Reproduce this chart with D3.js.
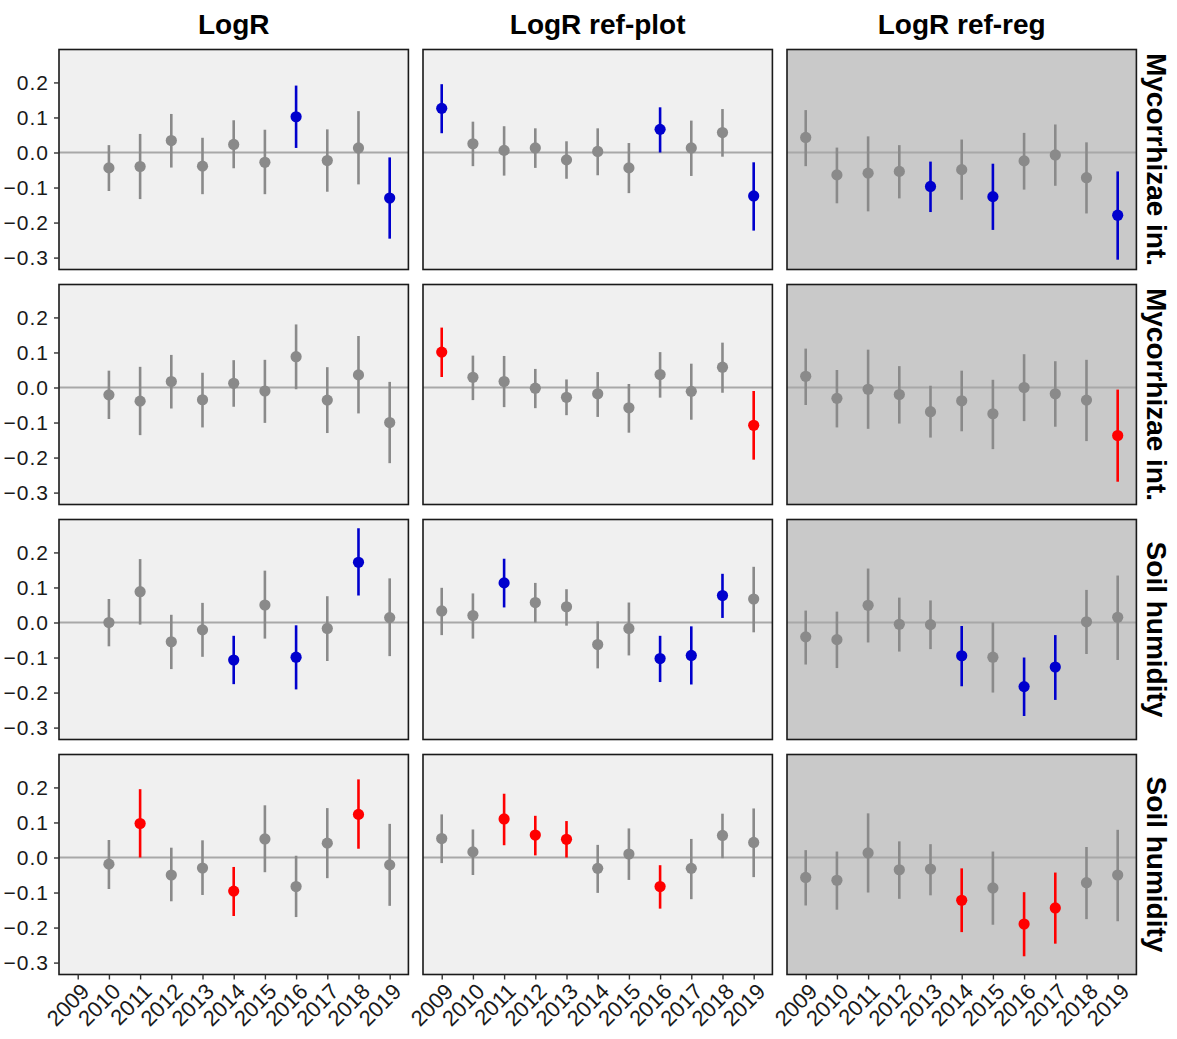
<!DOCTYPE html>
<html lang="en">
<head>
<meta charset="UTF-8">
<title>LogR by year</title>
<script src="https://cdn.jsdelivr.net/npm/d3@7"></script>
<style>
  body { margin: 0; background: #fff; }
  text { font-family: "Liberation Sans", Arial, Helvetica, sans-serif; }
</style>
</head>
<body>
<div id="chart"></div>
<script>
// years on the x axis
var years = [2009, 2010, 2011, 2012, 2013, 2014, 2015, 2016, 2017, 2018, 2019];
var colTitles = ["LogR", "LogR ref-plot", "LogR ref-reg"];
var rowTitles = ["Mycorrhizae int.", "Mycorrhizae int.", "Soil humidity", "Soil humidity"];
var yTicks = [0.2, 0.1, 0.0, -0.1, -0.2, -0.3];

// row 1 - Mycorrhizae int. (blue = significant)
var myc1LogR_est = [null, -0.044, -0.040, 0.034, -0.039, 0.023, -0.028, 0.102, -0.023, 0.013, -0.130];
var myc1LogR_lo  = [null, -0.110, -0.133, -0.043, -0.119, -0.045, -0.119, 0.013, -0.112, -0.091, -0.246];
var myc1LogR_hi  = [null, 0.021, 0.053, 0.110, 0.042, 0.092, 0.065, 0.191, 0.066, 0.118, -0.014];
var myc1LogR_sig = [0, 0, 0, 0, 0, 0, 0, 1, 0, 0, 1];

var myc1Plot_est = [0.126, 0.025, 0.006, 0.013, -0.021, 0.003, -0.044, 0.066, 0.013, 0.057, -0.124];
var myc1Plot_lo  = [0.055, -0.039, -0.066, -0.044, -0.075, -0.065, -0.116, 0.000, -0.067, -0.012, -0.223];
var myc1Plot_hi  = [0.195, 0.088, 0.075, 0.069, 0.032, 0.069, 0.027, 0.129, 0.091, 0.124, -0.028];
var myc1Plot_sig = [1, 0, 0, 0, 0, 0, 0, 1, 0, 0, 1];

var myc1Reg_est = [0.043, -0.064, -0.059, -0.054, -0.097, -0.049, -0.126, -0.024, -0.007, -0.072, -0.179];
var myc1Reg_lo  = [-0.039, -0.145, -0.168, -0.131, -0.170, -0.135, -0.221, -0.106, -0.095, -0.174, -0.306];
var myc1Reg_hi  = [0.121, 0.014, 0.046, 0.021, -0.026, 0.037, -0.032, 0.056, 0.080, 0.029, -0.054];
var myc1Reg_sig = [0, 0, 0, 0, 1, 0, 1, 0, 0, 0, 1];

// row 2 - Mycorrhizae int. (red = significant)
var myc2LogR_est = [null, -0.021, -0.039, 0.017, -0.035, 0.012, -0.010, 0.088, -0.036, 0.036, -0.100];
var myc2LogR_lo  = [null, -0.090, -0.136, -0.060, -0.114, -0.055, -0.101, -0.005, -0.130, -0.074, -0.216];
var myc2LogR_hi  = [null, 0.048, 0.059, 0.093, 0.042, 0.078, 0.079, 0.180, 0.058, 0.147, 0.016];
var myc2LogR_sig = [0, 0, 0, 0, 0, 0, 0, 0, 0, 0, 0];

var myc2Plot_est = [0.101, 0.029, 0.017, -0.002, -0.028, -0.018, -0.058, 0.037, -0.011, 0.058, -0.108];
var myc2Plot_lo  = [0.030, -0.036, -0.056, -0.059, -0.079, -0.084, -0.129, -0.029, -0.092, -0.015, -0.206];
var myc2Plot_hi  = [0.171, 0.091, 0.090, 0.053, 0.023, 0.044, 0.010, 0.101, 0.068, 0.128, -0.010];
var myc2Plot_sig = [1, 0, 0, 0, 0, 0, 0, 0, 0, 0, 1];

var myc2Reg_est = [0.032, -0.031, -0.005, -0.020, -0.069, -0.038, -0.075, 0.000, -0.018, -0.036, -0.137];
var myc2Reg_lo  = [-0.050, -0.114, -0.118, -0.103, -0.143, -0.125, -0.176, -0.096, -0.112, -0.153, -0.269];
var myc2Reg_hi  = [0.111, 0.050, 0.108, 0.061, 0.005, 0.048, 0.022, 0.095, 0.075, 0.079, -0.006];
var myc2Reg_sig = [0, 0, 0, 0, 0, 0, 0, 0, 0, 0, 1];

// row 3 - Soil humidity (blue)
var soil1LogR_est = [null, 0.000, 0.088, -0.055, -0.021, -0.107, 0.050, -0.099, -0.017, 0.172, 0.014];
var soil1LogR_lo  = [null, -0.068, -0.006, -0.133, -0.098, -0.176, -0.046, -0.191, -0.110, 0.077, -0.096];
var soil1LogR_hi  = [null, 0.067, 0.181, 0.022, 0.056, -0.038, 0.148, -0.008, 0.075, 0.269, 0.126];
var soil1LogR_sig = [0, 0, 0, 0, 0, 1, 0, 1, 0, 1, 0];

var soil1Plot_est = [0.033, 0.020, 0.113, 0.057, 0.045, -0.063, -0.017, -0.103, -0.094, 0.077, 0.067];
var soil1Plot_lo  = [-0.036, -0.046, 0.043, 0.000, -0.009, -0.131, -0.094, -0.170, -0.177, 0.013, -0.028];
var soil1Plot_hi  = [0.099, 0.083, 0.182, 0.113, 0.095, 0.003, 0.057, -0.038, -0.011, 0.139, 0.159];
var soil1Plot_sig = [0, 0, 1, 0, 0, 0, 0, 1, 1, 1, 0];

var soil1Reg_est = [-0.041, -0.049, 0.049, -0.005, -0.006, -0.095, -0.099, -0.183, -0.127, 0.002, 0.015];
var soil1Reg_lo  = [-0.120, -0.130, -0.057, -0.083, -0.076, -0.182, -0.200, -0.267, -0.221, -0.090, -0.107];
var soil1Reg_hi  = [0.034, 0.031, 0.154, 0.071, 0.063, -0.010, 0.000, -0.100, -0.036, 0.093, 0.134];
var soil1Reg_sig = [0, 0, 0, 0, 0, 1, 0, 1, 1, 0, 0];

// row 4 - Soil humidity (red)
var soil2LogR_est = [null, -0.019, 0.097, -0.050, -0.030, -0.096, 0.053, -0.083, 0.041, 0.123, -0.021];
var soil2LogR_lo  = [null, -0.090, 0.000, -0.125, -0.107, -0.167, -0.042, -0.170, -0.059, 0.025, -0.138];
var soil2LogR_hi  = [null, 0.050, 0.195, 0.028, 0.049, -0.027, 0.149, 0.005, 0.141, 0.223, 0.096];
var soil2LogR_sig = [0, 0, 1, 0, 0, 1, 0, 0, 0, 1, 0];

var soil2Plot_est = [0.054, 0.016, 0.110, 0.064, 0.052, -0.031, 0.010, -0.083, -0.031, 0.063, 0.043];
var soil2Plot_lo  = [-0.016, -0.050, 0.035, 0.006, 0.000, -0.101, -0.064, -0.146, -0.119, -0.002, -0.056];
var soil2Plot_hi  = [0.123, 0.080, 0.182, 0.119, 0.104, 0.036, 0.083, -0.022, 0.053, 0.125, 0.140];
var soil2Plot_sig = [0, 0, 1, 1, 1, 0, 0, 1, 0, 0, 0];

var soil2Reg_est = [-0.057, -0.065, 0.013, -0.035, -0.033, -0.122, -0.087, -0.190, -0.144, -0.072, -0.050];
var soil2Reg_lo  = [-0.137, -0.149, -0.100, -0.118, -0.108, -0.213, -0.192, -0.282, -0.246, -0.176, -0.182];
var soil2Reg_hi  = [0.021, 0.017, 0.126, 0.046, 0.038, -0.031, 0.017, -0.099, -0.043, 0.030, 0.079];
var soil2Reg_sig = [0, 0, 0, 0, 0, 1, 0, 1, 1, 0, 0];

// panels[row][col] = [est, lo, hi, sig]
var panels = [
    [[myc1LogR_est, myc1LogR_lo, myc1LogR_hi, myc1LogR_sig],
     [myc1Plot_est, myc1Plot_lo, myc1Plot_hi, myc1Plot_sig],
     [myc1Reg_est, myc1Reg_lo, myc1Reg_hi, myc1Reg_sig]],
    [[myc2LogR_est, myc2LogR_lo, myc2LogR_hi, myc2LogR_sig],
     [myc2Plot_est, myc2Plot_lo, myc2Plot_hi, myc2Plot_sig],
     [myc2Reg_est, myc2Reg_lo, myc2Reg_hi, myc2Reg_sig]],
    [[soil1LogR_est, soil1LogR_lo, soil1LogR_hi, soil1LogR_sig],
     [soil1Plot_est, soil1Plot_lo, soil1Plot_hi, soil1Plot_sig],
     [soil1Reg_est, soil1Reg_lo, soil1Reg_hi, soil1Reg_sig]],
    [[soil2LogR_est, soil2LogR_lo, soil2LogR_hi, soil2LogR_sig],
     [soil2Plot_est, soil2Plot_lo, soil2Plot_hi, soil2Plot_sig],
     [soil2Reg_est, soil2Reg_lo, soil2Reg_hi, soil2Reg_sig]]
];

var sigColor = ["#0000cd", "#ff0000", "#0000cd", "#ff0000"];  // per row
var panelFill = ["#f0f0f0", "#f0f0f0", "#c9c9c9"];
var grey = "#8a8a8a";

var W = 1177, H = 1039;
var left = 59, top0 = 49.5, pw = 349.4, ph = 220, gapX = 14.6, gapY = 15;

var svg = d3.select('#chart')
        .append('svg')
        .attr('width', W)
        .attr('height', H);

var x = d3.scalePoint().domain(years).range([0, pw]).padding(0.6);
var y = d3.scaleLinear().domain([-0.334, 0.294]).range([ph, 0]);

// column titles
svg.selectAll('text.coltitle')
        .data(colTitles)
        .enter()
        .append('text')
        .attr('class', 'coltitle')
        .attr('x', function(d, i){ return left + i * (pw + gapX) + pw / 2; })
        .attr('y', 34)
        .attr('text-anchor', 'middle')
        .style('font-size', '28px')
        .style('font-weight', 'bold')
        .text(function(d){ return d; });

panels.forEach(function(row, r){
    var py = top0 + r * (ph + gapY);

    // strip label on the right
    svg.append('text')
            .attr('transform', 'translate(' + (left + 3 * pw + 2 * gapX + 11) + ',' + (py + ph / 2) + ') rotate(90)')
            .attr('text-anchor', 'middle')
            .style('font-size', '28px')
            .style('font-weight', 'bold')
            .text(rowTitles[r]);

    row.forEach(function(p, c){
        var px = left + c * (pw + gapX);
        var g = svg.append('g').attr('transform', 'translate(' + px + ',' + py + ')');

        g.append('rect')
                .attr('width', pw)
                .attr('height', ph)
                .attr('fill', panelFill[c]);

        g.append('line')
                .attr('x1', 0).attr('x2', pw)
                .attr('y1', y(0)).attr('y2', y(0))
                .attr('stroke', '#a8a8a8')
                .attr('stroke-width', 2);

        var pts = years.map(function(yr, i){
            return {year: yr, est: p[0][i], lo: p[1][i], hi: p[2][i], sig: p[3][i]};
        }).filter(function(d){ return d.est !== null; });

        var col = function(d){ return d.sig ? sigColor[r] : grey; };

        g.selectAll('line.err')
                .data(pts)
                .enter()
                .append('line')
                .attr('class', 'err')
                .attr('x1', function(d){ return x(d.year); })
                .attr('x2', function(d){ return x(d.year); })
                .attr('y1', function(d){ return y(d.lo); })
                .attr('y2', function(d){ return y(d.hi); })
                .attr('stroke', col)
                .attr('stroke-width', 2.6);

        g.selectAll('circle')
                .data(pts)
                .enter()
                .append('circle')
                .attr('cx', function(d){ return x(d.year); })
                .attr('cy', function(d){ return y(d.est); })
                .attr('r', 5.6)
                .attr('fill', col);

        g.append('rect')
                .attr('width', pw)
                .attr('height', ph)
                .attr('fill', 'none')
                .attr('stroke', '#1a1a1a')
                .attr('stroke-width', 1.6);

        // y axis only on the first column
        if (c === 0) {
            var ya = g.append('g')
                    .call(d3.axisLeft(y).tickValues(yTicks).tickSize(5).tickPadding(5)
                            .tickFormat(d3.format('.1f')));
            ya.select('.domain').remove();
            ya.selectAll('line').attr('stroke', '#333').attr('stroke-width', 1.4);
            ya.selectAll('text')
                    .style('font-size', '21px')
                    .style('letter-spacing', '1px')
                    .attr('fill', '#1a1a1a')
                    .style('font-family', '"Liberation Sans", Arial, sans-serif');
        }

        // x axis only on the bottom row
        if (r === panels.length - 1) {
            var xa = g.append('g')
                    .attr('transform', 'translate(0,' + ph + ')')
                    .call(d3.axisBottom(x).tickSize(5).tickFormat(d3.format('d')));
            xa.select('.domain').remove();
            xa.selectAll('line').attr('stroke', '#333').attr('stroke-width', 1.4);
            xa.selectAll('text')
                    .style('font-size', '22px')
                    .attr('fill', '#1a1a1a')
                    .style('font-family', '"Liberation Sans", Arial, sans-serif')
                    .attr('text-anchor', 'end')
                    .attr('y', 0)
                    .attr('dy', '0.35em')
                    .attr('transform', 'translate(7,13) rotate(-45)');
        }
    });
});
</script>
</body>
</html>
